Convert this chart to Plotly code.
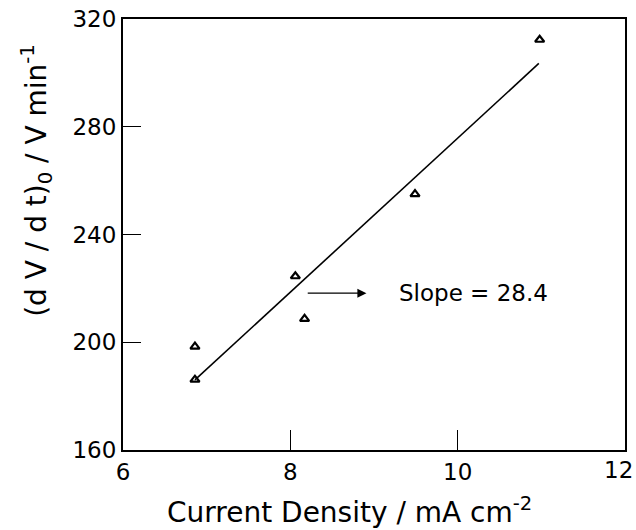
import plotly.graph_objects as go

# Data
current_density = [6.86, 6.86, 8.06, 8.17, 9.49, 10.98]
dvdt0 = [198.4, 186.1, 224.5, 208.7, 255.0, 312.3]

fit_x = [6.86, 10.97]
fit_y = [186.0, 303.5]

x_ticks = [6, 8, 10, 12]
x_tick_labels = ["6", "8", "10", "12"]
y_ticks = [160, 200, 240, 280, 320]
y_tick_labels = ["160", "200", "240", "280", "320"]

slope_label = "Slope = 28.4"
arrow_start = (8.19, 218.2)
arrow_end = (8.91, 218.2)

FONT = "DejaVu Sans"

fig = go.Figure()
fig.add_trace(go.Scatter(x=fit_x, y=fit_y, mode="lines",
                         line=dict(color="black", width=1.6), showlegend=False))
fig.add_trace(go.Scatter(x=current_density, y=dvdt0, mode="markers",
                         marker=dict(symbol="triangle-up-open", size=8, color="black",
                                     line=dict(width=2.2, color="black")),
                         showlegend=False))

fig.add_annotation(x=arrow_end[0], y=arrow_end[1], ax=arrow_start[0], ay=arrow_start[1],
                   xref="x", yref="y", axref="x", ayref="y", text="", showarrow=True,
                   arrowhead=2, arrowsize=1.4, arrowwidth=1.3, arrowcolor="black")
fig.add_annotation(x=9.28, y=218.2, xref="x", yref="y", text=slope_label, showarrow=False,
                   xanchor="left", yanchor="middle",
                   font=dict(family=FONT, size=23, color="black"))

fig.add_annotation(x=0.451, y=-0.14, xref="paper", yref="paper",
                   text="Current Density / mA cm<sup>-2</sup>", showarrow=False,
                   xanchor="center", yanchor="middle",
                   font=dict(family=FONT, size=28, color="black"))
fig.add_annotation(x=-0.172, y=0.626, xref="paper", yref="paper",
                   text="(d V / d t)<sub>0</sub> / V min<sup>-1</sup>", showarrow=False,
                   textangle=-90, xanchor="center", yanchor="middle",
                   font=dict(family=FONT, size=28, color="black"))

# last x tick label sits flush with the right edge, as in the reference
fig.add_annotation(x=x_ticks[-1], y=0, xref="x", yref="paper", text=x_tick_labels[-1],
                   showarrow=False, xanchor="right", yanchor="top", xshift=10, yshift=-5,
                   font=dict(family=FONT, size=23, color="black"))

axis_common = dict(ticks="inside", tickwidth=1.3, tickcolor="black",
                   showline=True, linecolor="black", linewidth=2, mirror=True,
                   showgrid=False, zeroline=False, ticklabeloverflow="allow",
                   automargin=False,
                   tickfont=dict(family=FONT, size=23, color="black"))

fig.update_xaxes(range=[6, 12], tickvals=x_ticks,
                 ticktext=x_tick_labels[:-1] + [""],
                 ticklen=20, **axis_common)
fig.update_yaxes(range=[160, 320], tickvals=y_ticks, ticktext=y_tick_labels,
                 ticklen=18, **axis_common)

fig.update_layout(width=636, height=530, margin=dict(l=123, r=11, t=19, b=80),
                  plot_bgcolor="white", paper_bgcolor="white")

fig.write_html("out.html")
